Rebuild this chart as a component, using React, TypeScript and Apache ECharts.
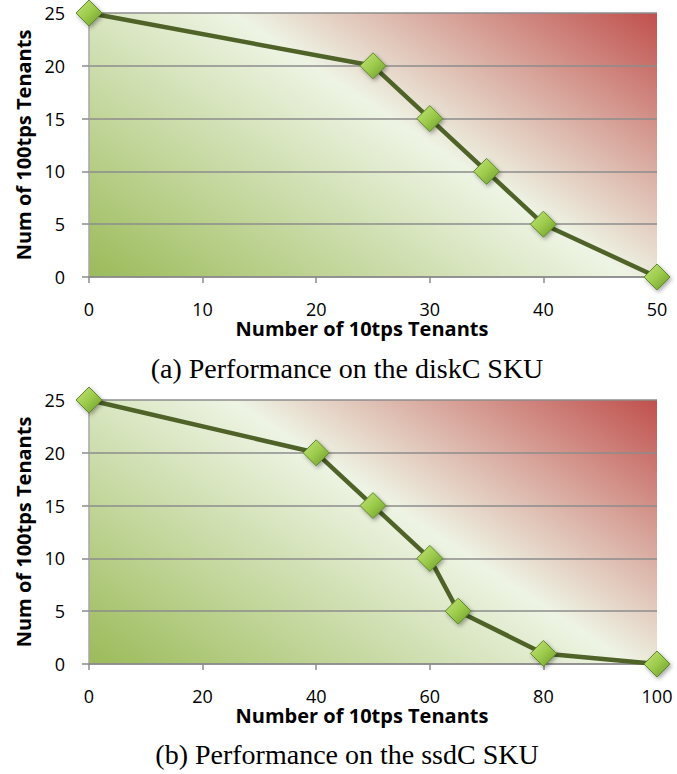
import React, { useEffect, useRef } from "react";
import * as echarts from "echarts";

// Chart (a): diskC SKU
const diskX = [0, 25, 30, 35, 40, 50];
const diskY = [25, 20, 15, 10, 5, 0];
// Chart (b): ssdC SKU
const ssdX = [0, 40, 50, 60, 65, 80, 100];
const ssdY = [25, 20, 15, 10, 5, 1, 0];

const yTicks = [0, 5, 10, 15, 20, 25];
const xMaxA = 50;
const xIntA = 10;
const xMaxB = 100;
const xIntB = 20;

const xName = "Number of 10tps Tenants";
const yName = "Num of 100tps Tenants";
const captionA = "(a) Performance on the diskC SKU";
const captionB = "(b) Performance on the ssdC SKU";

export default function App() {
  const ref = useRef<HTMLDivElement>(null);
  useEffect(() => {
    if (!ref.current) return;
    const chart = echarts.init(ref.current, undefined, { renderer: "svg" });

    const makeBg = () =>
      new echarts.graphic.LinearGradient(0, 1, 1.141, 0.201, [
        { offset: 0, color: "#9bbb59" },
        { offset: 0.56, color: "#eef4e4" },
        { offset: 1, color: "#c0504d" },
      ]);
    const markerColor = () =>
      new echarts.graphic.LinearGradient(0, 0, 1, 1, [
        { offset: 0, color: "#c4e47c" },
        { offset: 0.5, color: "#9ccb4b" },
        { offset: 1, color: "#6b962c" },
      ]);

    const gray = "#8c8c8c";
    const labelFont = { fontFamily: "Open Sans", fontSize: 18, color: "#000" };
    const nameFont = {
      fontFamily: "Open Sans",
      fontSize: 20,
      fontWeight: "bold" as const,
      color: "#000",
    };

    const xAxis = (gridIndex: number, max: number, interval: number) => ({
      type: "value" as const,
      gridIndex,
      min: 0,
      max,
      interval,
      name: xName,
      nameLocation: "middle" as const,
      nameGap: 33,
      nameTextStyle: { ...nameFont, padding: [0, 22, 0, 0] },
      axisLine: { show: true, lineStyle: { color: gray, width: 1.5 } },
      axisTick: { show: true, length: 6, lineStyle: { color: gray, width: 1.5 } },
      axisLabel: { ...labelFont, margin: 23 },
      splitLine: { show: false },
    });
    const yAxis = (gridIndex: number) => ({
      type: "value" as const,
      gridIndex,
      min: yTicks[0],
      max: yTicks[yTicks.length - 1],
      interval: yTicks[1] - yTicks[0],
      name: yName,
      nameLocation: "middle" as const,
      nameGap: 54,
      nameTextStyle: nameFont,
      axisLine: { show: true, lineStyle: { color: "#a6a6a6", width: 1.5 } },
      axisTick: { show: true, length: 7, lineStyle: { color: gray, width: 1.5 } },
      axisLabel: { ...labelFont, margin: 24 },
      splitLine: { show: true, lineStyle: { color: gray, width: 1.5 } },
    });
    const series = (idx: number, xs: number[], ys: number[]) => ({
      type: "line" as const,
      xAxisIndex: idx,
      yAxisIndex: idx,
      data: xs.map((x, i) => [x, ys[i]]),
      clip: false,
      symbol: "diamond",
      symbolSize: 26,
      lineStyle: { color: "#4f6228", width: 4.5 },
      itemStyle: {
        color: markerColor(),
        borderColor: "#5f8a2a",
        borderWidth: 1,
        shadowBlur: 4,
        shadowOffsetX: 1.5,
        shadowOffsetY: 2,
        shadowColor: "rgba(0,0,0,0.35)",
      },
      z: 3,
    });

    const caption = (text: string, y: number) => ({
      type: "text" as const,
      x: 347,
      y,
      style: {
        text,
        fontFamily: "Liberation Serif",
        fontSize: 28,
        fill: "#000",
        textAlign: "center",
        textVerticalAlign: "middle",
      },
    });

    chart.setOption({
      animation: false,
      backgroundColor: "#fff",
      grid: [
        { left: 89, top: 13, width: 568, height: 264, show: true, backgroundColor: makeBg(), borderWidth: 0 },
        { left: 89, top: 400, width: 568, height: 264, show: true, backgroundColor: makeBg(), borderWidth: 0 },
      ],
      xAxis: [xAxis(0, xMaxA, xIntA), xAxis(1, xMaxB, xIntB)],
      yAxis: [yAxis(0), yAxis(1)],
      series: [series(0, diskX, diskY), series(1, ssdX, ssdY)],
      graphic: [caption(captionA, 368.5), caption(captionB, 754.5)],
    });
    return () => chart.dispose();
  }, []);
  return (
    <div
      ref={ref}
      style={{ position: "absolute", left: 0, top: 0, width: 677, height: 774 }}
    />
  );
}
